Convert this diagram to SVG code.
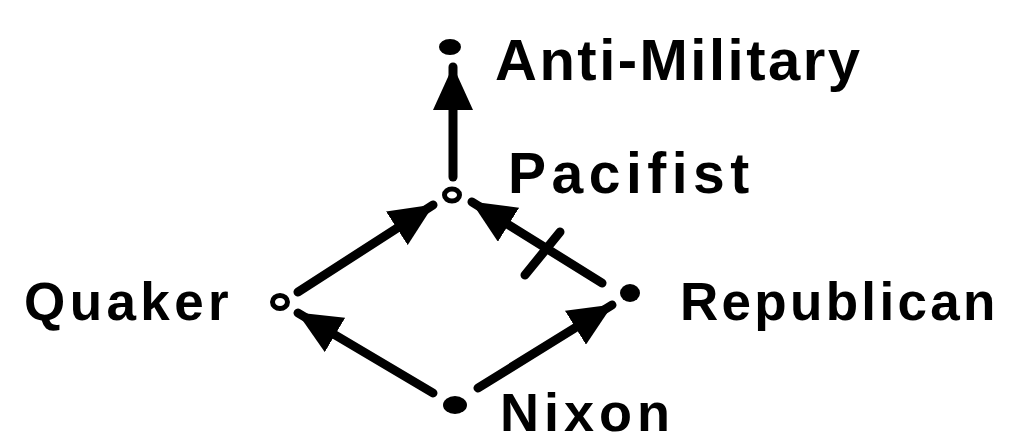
<svg xmlns="http://www.w3.org/2000/svg" width="1012" height="443" viewBox="0 0 1012 443">
<style>
.lbl{font-family:"Liberation Sans",Arial,sans-serif;font-weight:bold;fill:#000}
.edge{stroke:#000;stroke-width:9;stroke-linecap:round;fill:none}
.dot{fill:#000}
</style>
<defs>
<marker id="ah" viewBox="0 0 44 40" refX="43" refY="20" markerWidth="44" markerHeight="40" markerUnits="userSpaceOnUse" orient="auto">
<path d="M0,0 L44,20 L0,40 z" fill="#000"/>
</marker>
</defs>
<rect width="1012" height="443" fill="#fff"/>
<g id="connectors">
<line class="edge" x1="453" y1="177" x2="453" y2="67" marker-end="url(#ah)"/>
<line class="edge" x1="298" y1="292" x2="433" y2="205" marker-end="url(#ah)"/>
<line class="edge" x1="602" y1="283" x2="472" y2="202" marker-end="url(#ah)"/>
<line class="edge" x1="560" y1="232" x2="525" y2="275"/>
<line class="edge" x1="433" y1="393" x2="298" y2="313" marker-end="url(#ah)"/>
<line class="edge" x1="478" y1="388" x2="612" y2="305" marker-end="url(#ah)"/>
</g>
<g id="anti-military">
<ellipse class="dot" cx="450" cy="47" rx="11" ry="8"/>
<text class="lbl" x="495" y="80" font-size="58" letter-spacing="2.5">Anti-Military</text>
</g>
<g id="pacifist">
<ellipse cx="452" cy="195" rx="7.5" ry="6" fill="#fff" stroke="#000" stroke-width="5"/>
<text class="lbl" x="508" y="193" font-size="57" letter-spacing="5.5">Pacifist</text>
</g>
<g id="quaker">
<ellipse cx="280" cy="302" rx="7.5" ry="6.5" fill="#fff" stroke="#000" stroke-width="5"/>
<text class="lbl" x="24" y="320" font-size="53" letter-spacing="4.4">Quaker</text>
</g>
<g id="republican">
<ellipse class="dot" cx="630" cy="293" rx="10" ry="9"/>
<text class="lbl" x="680" y="320" font-size="53" letter-spacing="3.3">Republican</text>
</g>
<g id="nixon">
<ellipse class="dot" cx="455" cy="405" rx="12" ry="9"/>
<text class="lbl" x="500" y="431" font-size="54" letter-spacing="5">Nixon</text>
</g>
</svg>
